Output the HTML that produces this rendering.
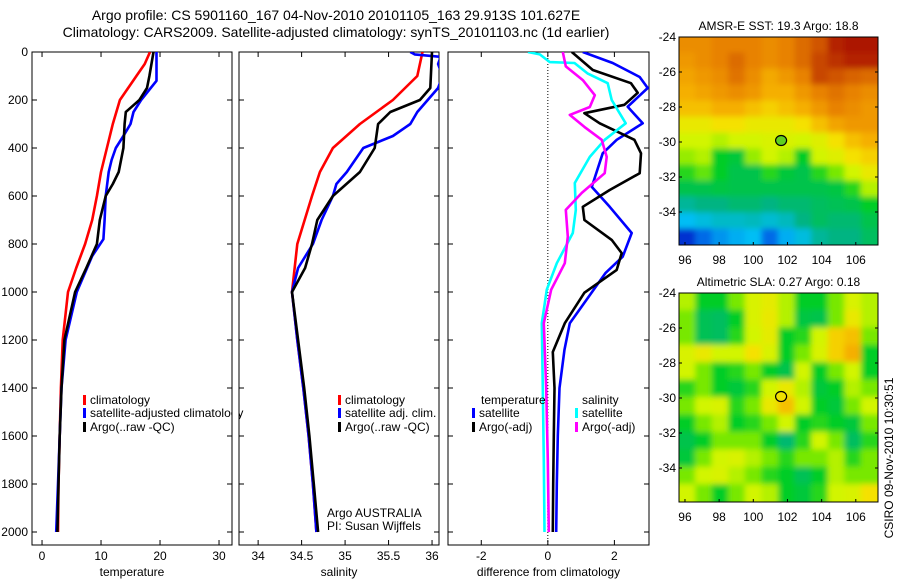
<!DOCTYPE html>
<html><head><meta charset="utf-8"><style>
body{margin:0;background:#fff}
svg{display:block;font-family:"Liberation Sans",sans-serif}
</style></head><body>
<svg id="fig" width="900" height="580" viewBox="0 0 900 580">
<defs>
<filter id="bl" x="-5%" y="-5%" width="110%" height="110%"><feGaussianBlur stdDeviation="3"/></filter>
<clipPath id="c1"><rect x="679" y="37" width="199" height="208"/></clipPath>
<clipPath id="c2"><rect x="679" y="293" width="199" height="209"/></clipPath>
<clipPath id="cp1"><rect x="32" y="52" width="200" height="493"/></clipPath>
<clipPath id="cp2"><rect x="239" y="52" width="200" height="493"/></clipPath>
<clipPath id="cp3"><rect x="448" y="52" width="201" height="493"/></clipPath>
</defs>
<text x="336" y="20" font-size="14" text-anchor="middle">Argo profile: CS 5901160_167 04-Nov-2010 20101105_163 29.913S 101.627E</text>
<text x="336" y="37" font-size="14" text-anchor="middle">Climatology: CARS2009. Satellite-adjusted climatology: synTS_20101103.nc (1d earlier)</text>
<g id="root"></g>
</svg>
<script>
const depthTicks=[0,200,400,600,800,1000,1200,1400,1600,1800,2000];
const tClimD=[0,50,100,200,300,400,500,600,700,800,900,1000,1200,1400,1600,1800,2000];
const tClimV=[18.3,17.4,16,13.2,12,11,10,9.3,8.5,7.3,5.8,4.4,3.5,3.2,3,2.8,2.7];
const tSatD=[0,120,200,250,300,350,400,450,500,600,700,780,850,1000,1200,1400,1600,1800,2000];
const tSatV=[19.4,19.4,16.8,15.5,15,13.8,12.5,11.8,11.3,10.8,10.6,10.4,8.5,5.9,4,3.3,3,2.7,2.4];
const tArgoD=[0,100,150,200,250,300,400,500,550,600,700,800,900,1000,1200,1400,1600,1800,2000];
const tArgoV=[18.9,18.2,17.8,16.5,14.2,14,13.8,13,12,10.8,9.8,9.3,7.5,5.6,3.8,3.3,3.0,2.8,2.6];
const tTicks=[0,10,20,30];
const sClimD=[0,100,200,300,400,500,600,800,1000,1200,1400,1600,1800,2000];
const sClimV=[35.89,35.83,35.55,35.17,34.86,34.71,34.62,34.45,34.39,34.45,34.52,34.58,34.63,34.67];
const sSatD=[0,10,20,50,100,150,250,300,350,400,500,550,600,700,800,900,1000,1200,1400,1600,1800,2000];
const sSatV=[35.75,35.8,36.1,36.07,36.12,36.07,35.83,35.75,35.55,35.21,35.02,34.9,34.86,34.73,34.63,34.46,34.39,34.45,34.52,34.58,34.63,34.67];
const sArgoD=[0,150,200,250,300,400,500,600,700,800,900,1000,1200,1400,1600,1800,2000];
const sArgoV=[36.0,35.98,35.86,35.52,35.38,35.34,35.17,34.86,34.68,34.62,34.54,34.39,34.46,34.53,34.59,34.64,34.69];
const sTicks=[34,34.5,35,35.5,36];
const sTickLabels=["34","34.5","35","35.5","36"];
const dTSatD=[0,46,104,150,228,297,366,422,562,645,754,853,920,1045,1130,1240,1400,1600,1800,2000];
const dTSatV=[1.05,1.95,2.76,3.0,2.4,2.85,2.07,1.65,1.32,1.86,2.52,2.25,1.74,1.1,0.66,0.5,0.35,0.3,0.27,0.25];
const dTArgoD=[0,75,130,170,220,255,297,366,422,505,575,645,700,783,838,908,1003,1130,1250,1400,1600,1800,2000];
const dTArgoV=[0.72,1.35,2.5,2.7,2.3,1.1,1.56,2.6,2.8,2.76,1.86,1.05,1.1,1.92,2.22,2.07,1.1,0.51,0.15,0.2,0.18,0.16,0.15];
const dSSatD=[0,10,42,46,90,130,200,297,366,437,546,658,754,880,990,1130,1400,1700,2000];
const dSSatV=[-0.6,-0.24,0.06,0.8,1.2,1.8,1.92,2.34,1.71,1.26,0.81,0.84,0.75,0.27,-0.03,-0.18,-0.15,-0.12,-0.1];
const dSArgoD=[0,60,117,180,229,262,312,366,437,505,587,658,769,880,990,1130,1400,1700,2000];
const dSArgoV=[0.45,0.54,1.05,1.41,1.26,0.66,1.1,1.62,1.77,1.71,1.02,0.54,0.6,0.51,0.1,-0.12,-0.05,0,0.03];
const dTicks=[-2,0,2];
const mapLonTicks=[96,98,100,102,104,106];
const mapLatTicks=[-24,-26,-28,-30,-32,-34];
const sstGrid=[
[0.8,0.8,0.82,0.82,0.82,0.8,0.82,0.85,0.88,0.95,0.97,0.97],
[0.78,0.8,0.82,0.85,0.82,0.8,0.82,0.85,0.9,0.93,0.95,0.95],
[0.76,0.78,0.8,0.84,0.8,0.75,0.78,0.82,0.9,0.88,0.86,0.85],
[0.74,0.76,0.78,0.8,0.78,0.74,0.74,0.78,0.82,0.84,0.82,0.8],
[0.72,0.72,0.74,0.74,0.72,0.7,0.72,0.74,0.78,0.82,0.8,0.78],
[0.66,0.66,0.68,0.68,0.66,0.66,0.66,0.68,0.72,0.76,0.78,0.78],
[0.62,0.62,0.6,0.62,0.62,0.63,0.63,0.62,0.64,0.68,0.72,0.74],
[0.58,0.6,0.5,0.48,0.58,0.62,0.6,0.5,0.62,0.64,0.68,0.7],
[0.52,0.55,0.5,0.46,0.46,0.52,0.48,0.46,0.52,0.56,0.62,0.66],
[0.46,0.46,0.47,0.46,0.46,0.46,0.46,0.46,0.46,0.47,0.52,0.6],
[0.38,0.4,0.4,0.42,0.42,0.4,0.42,0.42,0.44,0.45,0.46,0.5],
[0.3,0.32,0.34,0.34,0.35,0.33,0.35,0.4,0.44,0.42,0.42,0.46],
[0.12,0.2,0.25,0.28,0.3,0.2,0.28,0.32,0.38,0.4,0.4,0.44]];
const slaGrid=[
[0.6,0.5,0.5,0.56,0.63,0.65,0.6,0.5,0.5,0.56,0.63,0.6],
[0.56,0.45,0.44,0.5,0.63,0.66,0.6,0.47,0.46,0.56,0.66,0.6],
[0.56,0.45,0.44,0.52,0.62,0.65,0.5,0.52,0.62,0.7,0.72,0.56],
[0.63,0.66,0.62,0.62,0.68,0.63,0.5,0.56,0.63,0.7,0.74,0.5],
[0.62,0.56,0.5,0.52,0.56,0.5,0.46,0.62,0.5,0.56,0.62,0.5],
[0.52,0.56,0.5,0.48,0.52,0.62,0.66,0.6,0.48,0.5,0.6,0.56],
[0.56,0.62,0.63,0.52,0.56,0.66,0.72,0.62,0.5,0.48,0.56,0.62],
[0.5,0.56,0.6,0.5,0.52,0.56,0.62,0.5,0.52,0.5,0.48,0.56],
[0.46,0.5,0.56,0.56,0.56,0.5,0.42,0.52,0.62,0.56,0.44,0.52],
[0.48,0.56,0.62,0.63,0.6,0.56,0.52,0.56,0.56,0.6,0.52,0.56],
[0.56,0.62,0.63,0.6,0.56,0.52,0.5,0.45,0.5,0.6,0.56,0.56],
[0.62,0.56,0.5,0.56,0.62,0.6,0.5,0.48,0.52,0.62,0.63,0.68]];

const NS="http://www.w3.org/2000/svg";
const root=document.getElementById('root');
function mk(tag,attrs,parent){const e=document.createElementNS(NS,tag);for(const k in attrs)e.setAttribute(k,attrs[k]);(parent||root).appendChild(e);return e;}
const yD=d=>52+d*0.24;

const panels=[
 {x0:32,x1:232,vmin:-1.7,vmax:32.2,ticks:tTicks,labels:tTicks.map(String),title:"temperature",clip:"cp1",name:"temperature-panel"},
 {x0:239,x1:439,vmin:33.78,vmax:36.08,ticks:sTicks,labels:sTickLabels,title:"salinity",clip:"cp2",name:"salinity-panel"},
 {x0:448,x1:649,vmin:-3.0,vmax:3.04,ticks:dTicks,labels:dTicks.map(String),title:"difference from climatology",clip:"cp3",name:"difference-panel"}];
panels.forEach((p,i)=>{
 p.sx=v=>p.x0+(v-p.vmin)/(p.vmax-p.vmin)*(p.x1-p.x0);
 const g=mk('g',{});
 
 
 const r=mk('rect',{x:p.x0,y:52,width:p.x1-p.x0,height:493,fill:'none',stroke:'#000','stroke-width':1},g);
 
 
 depthTicks.forEach(d=>{
  mk('line',{x1:p.x0,x2:p.x0+5,y1:yD(d),y2:yD(d),stroke:'#000'},g);
  mk('line',{x1:p.x1,x2:p.x1-5,y1:yD(d),y2:yD(d),stroke:'#000'},g);
  if(i===0){const t=mk('text',{x:28,y:yD(d)+4,'font-size':12,'text-anchor':'end'},g);t.textContent=d;
   
   }
 });
 p.ticks.forEach((v,k)=>{
  const x=p.sx(v);
  mk('line',{x1:x,x2:x,y1:545,y2:540,stroke:'#000'},g);
  mk('line',{x1:x,x2:x,y1:52,y2:57,stroke:'#000'},g);
  const t=mk('text',{x:x,y:560,'font-size':12,'text-anchor':'middle'},g);t.textContent=p.labels[k];
  
  
 });
 const tt=mk('text',{x:(p.x0+p.x1)/2,y:576,'font-size':12,'text-anchor':'middle'},g);tt.textContent=p.title;
 
 
});
const p3=panels[2];
const zl=mk('line',{x1:p3.sx(0),x2:p3.sx(0),y1:52,y2:545,stroke:'#000','stroke-dasharray':'1,2'});



function series(p,D,V,color,name){
 const pts=D.map((d,k)=>p.sx(V[k]).toFixed(1)+','+yD(d).toFixed(1)).join(' ');
 const l=mk('polyline',{points:pts,fill:'none',stroke:color,'stroke-width':2.6,'stroke-linejoin':'round','clip-path':'url(#'+p.clip+')'});
 
 
}
series(panels[0],tClimD,tClimV,'#ff0000','temp-climatology-line');
series(panels[0],tSatD,tSatV,'#0000ff','temp-satellite-line');
series(panels[0],tArgoD,tArgoV,'#000000','temp-argo-line');
series(panels[1],sClimD,sClimV,'#ff0000','sal-climatology-line');
series(panels[1],sSatD,sSatV,'#0000ff','sal-satellite-line');
series(panels[1],sArgoD,sArgoV,'#000000','sal-argo-line');
series(p3,dTSatD,dTSatV,'#0000ff','diff-temp-satellite-line');
series(p3,dTArgoD,dTArgoV,'#000000','diff-temp-argo-line');
series(p3,dSSatD,dSSatV,'#00ffff','diff-sal-satellite-line');
series(p3,dSArgoD,dSArgoV,'#ff00ff','diff-sal-argo-line');

function legend(x,y,color,label,name){
 const g=mk('g',{});
 
 
 if(color)mk('rect',{x:x,y:y-9,width:3,height:10,fill:color},g);
 const t=mk('text',{x:color?x+7:x,y:y,'font-size':12},g);t.textContent=label;
}
legend(83,404,'#ff0000','climatology','legend-climatology');
legend(83,417,'#0000ff','satellite-adjusted climatology','legend-satellite');
legend(83,431,'#000000','Argo(..raw -QC)','legend-argo');
legend(338,404,'#ff0000','climatology','legend-sal-climatology');
legend(338,417,'#0000ff','satellite adj. clim.','legend-sal-satellite');
legend(338,431,'#000000','Argo(..raw -QC)','legend-sal-argo');
legend(481,404,null,'temperature','legend-temperature-header');
legend(472,417,'#0000ff','satellite','legend-diff-temp-sat');
legend(472,431,'#000000','Argo(-adj)','legend-diff-temp-argo');
legend(582,404,null,'salinity','legend-salinity-header');
legend(575,417,'#00ffff','satellite','legend-diff-sal-sat');
legend(575,431,'#ff00ff','Argo(-adj)','legend-diff-sal-argo');
legend(327,517,null,'Argo AUSTRALIA','platform-label');
legend(327,530,null,'PI: Susan Wijffels','pi-label');
const cover=mk('rect',{x:232.5,y:405,width:6,height:16,fill:'#fff'});


mk('line',{x1:232,x2:232,y1:52,y2:545,stroke:'#000'});
mk('line',{x1:239,x2:239,y1:52,y2:545,stroke:'#000'});

const stops=[[0,[0,0,144]],[0.15,[0,64,224]],[0.3,[0,190,245]],[0.4,[0,180,130]],[0.5,[0,205,40]],[0.56,[120,232,0]],[0.62,[210,245,0]],[0.68,[245,225,0]],[0.74,[245,175,0]],[0.82,[232,130,0]],[0.9,[200,70,0]],[1,[160,0,0]]];
function cmap(v){for(let i=1;i<stops.length;i++){if(v<=stops[i][0]){const a=stops[i-1],b=stops[i],t=(v-a[0])/(b[0]-a[0]);return 'rgb('+a[1].map((c,k)=>Math.round(c+(b[1][k]-c)*t)).join(',')+')';}}return 'rgb(160,0,0)';}

function drawMap(grid,top,h,clip,title,name,dotFill){
 const x0=679,w=199,latTop=-24,latBot=-24-(h/17.5);
 const lonL=95.65,lonR=107.3;
 const sx=lon=>x0+(lon-lonL)/(lonR-lonL)*w;
 const sy=lat=>top+(latTop-lat)/(latTop-latBot)*h;
 const g=mk('g',{});
 
 
 const cells=mk('g',{'clip-path':'url(#'+clip+')'},g);
 const inner=mk('g',{filter:'url(#bl)'},cells);
 const rows=grid.length,cols=grid[0].length;
 const cw=w/cols,ch=h/rows;
 grid.forEach((row,r)=>row.forEach((v,c)=>{
  const ex=(c===0?-8:0),ey=(r===0?-8:0);
  const e=mk('rect',{x:x0+c*cw-0.5+ex,y:top+r*ch-0.5+ey,width:cw+1-ex+(c===cols-1?8:0),height:ch+1-ey+(r===rows-1?8:0),fill:cmap(v)},inner);
  
  
 }));
 mk('rect',{x:x0,y:top,width:w,height:h,fill:'none',stroke:'#000'},g);
 mapLatTicks.forEach(l=>{const y=sy(l);
  mk('line',{x1:x0,x2:x0+3,y1:y,y2:y,stroke:'#000'},g);
  mk('line',{x1:x0+w,x2:x0+w-3,y1:y,y2:y,stroke:'#000'},g);
  const t=mk('text',{x:676,y:y+4,'font-size':12,'text-anchor':'end'},g);t.textContent=l;
  
  });
 mapLonTicks.forEach(l=>{const x=sx(l);
  mk('line',{x1:x,x2:x,y1:top+h,y2:top+h-3,stroke:'#000'},g);
  const t=mk('text',{x:x,y:top+h+19,'font-size':12,'text-anchor':'middle'},g);t.textContent=l;
  
  });
 const tt=mk('text',{x:x0+w/2,y:top-7,'font-size':12,'text-anchor':'middle'},g);tt.textContent=title;
 
 
 const dot=mk('ellipse',{cx:sx(101.627),cy:sy(-29.913),rx:5.5,ry:5,fill:dotFill,stroke:'#000','stroke-width':1.2},g);
 
 
}
drawMap(sstGrid,37,208,'c1','AMSR-E SST: 19.3 Argo: 18.8','sst-map','#60d020');
drawMap(slaGrid,293,209,'c2','Altimetric SLA: 0.27 Argo: 0.18','sla-map','#f0e000');
const cs=mk('text',{x:0,y:0,'font-size':12,'text-anchor':'middle',transform:'translate(893,458) rotate(-90)'});
cs.textContent='CSIRO 09-Nov-2010 10:30:51';


</script>
</body></html>
